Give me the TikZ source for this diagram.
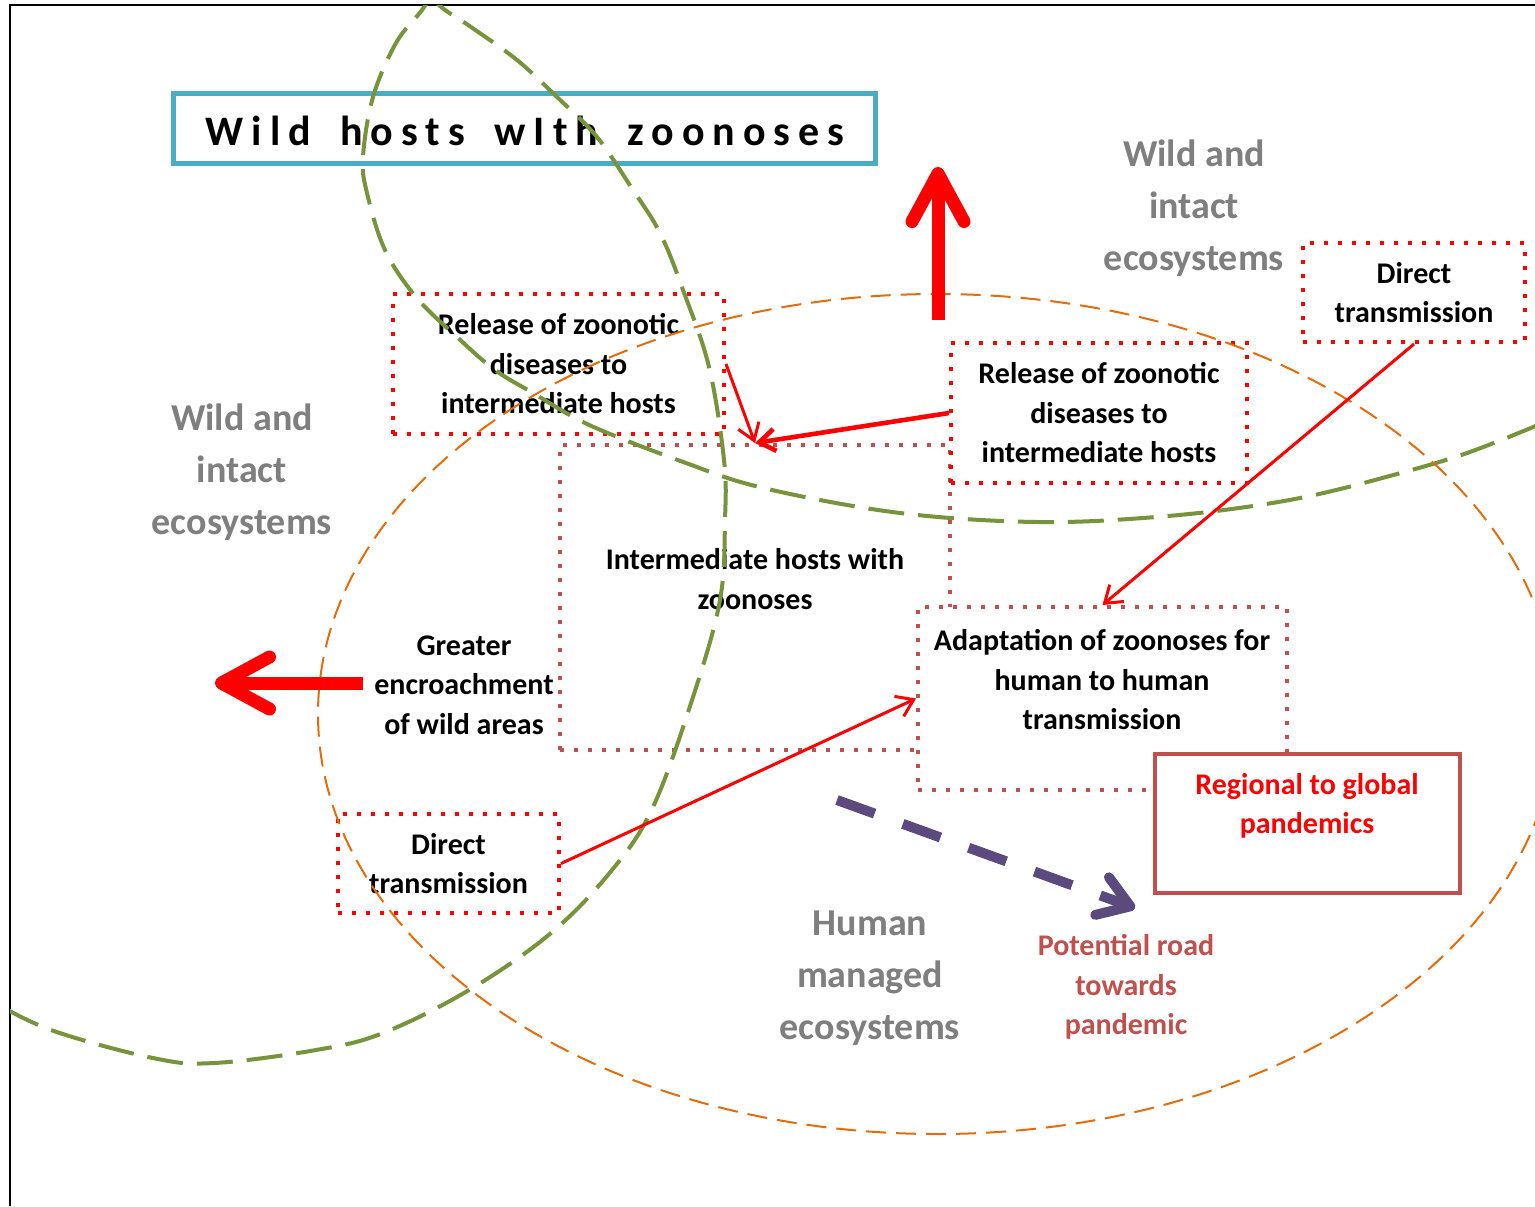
\documentclass[tikz,border=0pt]{standalone}
\usepackage{fontspec}
\setmainfont{Carlito}
\newfontfamily\titlefont[LetterSpace=19]{Carlito}
\usetikzlibrary{arrows.meta}
\definecolor{grn}{HTML}{77933C}
\definecolor{orng}{HTML}{E46C0A}
\definecolor{dred}{HTML}{C0504D}
\definecolor{purp}{HTML}{5C4A7E}
\definecolor{graytxt}{HTML}{7F7F7F}
\definecolor{tblue}{HTML}{4BACC6}
\begin{document}
\begin{tikzpicture}[x=0.5pt,y=-0.5pt,
  txt/.style={font=\bfseries\fontsize{15}{19.75}\selectfont, align=center, inner sep=0pt},
  gtxt/.style={font=\bfseries\fontsize{19}{26}\selectfont, text=graytxt, align=center, inner sep=0pt},
  rbox/.style={draw=red, line width=2pt, dash pattern=on 2pt off 5pt, inner sep=0pt},
  dbox/.style={draw=dred, line width=2pt, dash pattern=on 2pt off 5pt, inner sep=0pt},
  greenline/.style={draw=grn, line width=2pt, dash pattern=on 18pt off 7pt},
  orangeline/.style={draw=orng, line width=1pt, dash pattern=on 10pt off 5pt},
  thinarrow/.style={draw=red, line width=1.5pt, -{Straight Barb[length=8pt,width=11pt]}},
  bigarrow/.style={draw=red, line width=6.5pt, -{Straight Barb[length=24pt,width=26pt,round]}},
  purparrow/.style={draw=purp, line width=5pt, dash pattern=on 20pt off 15pt, -{Straight Barb[length=15pt,width=20pt,round]}}
]
\useasboundingbox (0,0) rectangle (1535,1206);
\fill[white] (0,0) rectangle (1535,1206);
\draw[line width=1.2pt] (10,1206) -- (10,5) -- (1535,5);

% title
\node[draw=tblue, line width=2.5pt, minimum width=351pt, minimum height=35pt, inner sep=0pt] (titlebox) at (524,128) {};
\node[font=\titlefont\bfseries\fontsize{21}{25}\selectfont, inner sep=0pt] (title) at (525,131) {Wild\hspace{6pt} hosts\hspace{6pt} wIth\hspace{6pt} zoonoses};

% boxes
\node[rbox, txt, minimum width=165.5pt, minimum height=70pt] (relL) at (558.5,364) {Release of zoonotic\\diseases to\\intermediate hosts};
\node[dbox, minimum width=195pt, minimum height=152.5pt] (inter) at (755,597.5) {};
\node[txt] (intert) at (755,579) {Intermediate hosts with\\zoonoses};
\node[rbox, fill=white, txt, minimum width=148pt, minimum height=70pt] (relR) at (1099,413) {Release of zoonotic\\diseases to\\intermediate hosts};
\node[rbox, txt, minimum width=111pt, minimum height=49.5pt] (dirTR) at (1414,292.5) {Direct\\transmission};
\node[rbox, txt, minimum width=110.5pt, minimum height=49.5pt] (dirBL) at (448.5,863.5) {Direct\\transmission};
\node[dbox, fill=white, minimum width=184.5pt, minimum height=91.5pt] (adapt) at (1102.5,698.5) {};
\node[txt] (adaptt) at (1102,680) {Adaptation of zoonoses for\\human to human\\transmission};
\node[draw=dred, fill=white, line width=1.6pt, minimum width=152.5pt, minimum height=69.5pt, inner sep=0pt] (regional) at (1307.5,823.5) {};
\node[txt, text=red] (regionalt) at (1307,806) {Regional to global\\pandemics};
\node[txt] (greater) at (464,685) {Greater\\encroachment\\of wild areas};
\node[txt, text=dred] (potential) at (1126,987) {Potential road\\towards\\pandemic};
\node[gtxt] (wildL) at (242,472) {Wild and\\intact\\ecosystems};
\node[gtxt] (wildR) at (1194,208) {Wild and\\intact\\ecosystems};
\node[gtxt] (human) at (870,978) {Human\\managed\\ecosystems};

% ecosystem outlines
\begin{scope}
\clip (10,5) rectangle (1535,1206);
\draw[greenline] plot[smooth, tension=0.6] coordinates {(428,-12) (440,6) (471,27) (517,60) (557,97) (597,137) (631,187) (660,233) (683,290) (709,367) (724,460) (725,520) (720,600) (693,697) (653,807) (612,870) (551,933) (469,990) (383,1033) (316,1050) (214,1063) (153,1058) (51,1030) (-10,1000)};
\draw[greenline] plot[smooth, tension=0.6] coordinates {(436,-12) (422,10) (396,43) (373,97) (363,157) (367,193) (385,250) (416,297) (457,337) (495,370) (533,393) (579,420) (625,440) (686,463) (744,483) (820,500) (900,513) (981,520) (1062,522) (1143,518) (1224,510) (1305,497) (1386,477) (1467,453) (1550,420)};
\draw[orangeline] (937,714) ellipse [x radius=309.5pt, y radius=210pt];
\end{scope}

% arrows
\coordinate (upS) at (938,320);
\coordinate (upE) at (938,167);
\coordinate (lfS) at (363,683);
\coordinate (lfE) at (215,683);
\coordinate (pS) at (837,800);
\coordinate (pE) at (1135,908);
\draw[bigarrow] (upS) -- (upE);
\draw[bigarrow] (lfS) -- (lfE);
\draw[purparrow] (pS) -- (pE);
\draw[thinarrow] (relL.east) -- (inter.north);
\draw[thinarrow, line width=2.3pt] (relR.west) -- (inter.north);
\draw[thinarrow] (dirTR.south) -- (adapt.north);
\draw[thinarrow] (dirBL.east) -- (adapt.west);
\end{tikzpicture}
\end{document}
